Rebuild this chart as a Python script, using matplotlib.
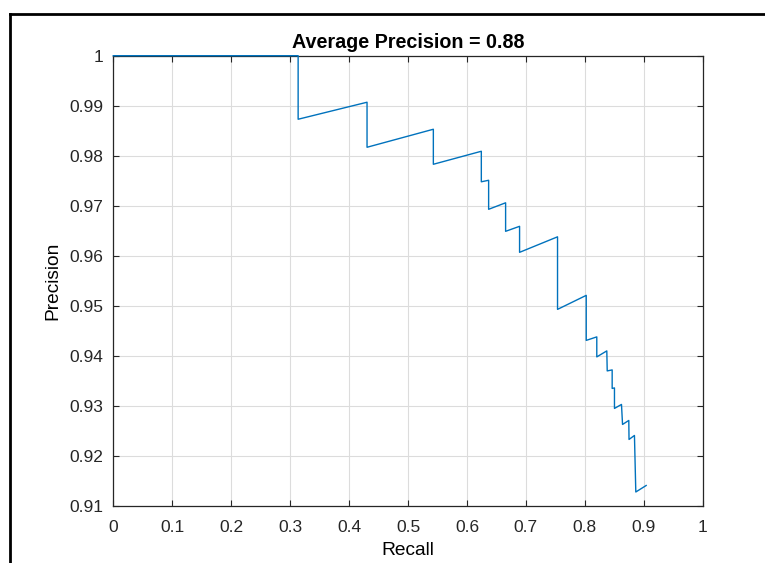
"""
Precision-recall curve, MATLAB style.
"""
import matplotlib
matplotlib.use('Agg')
import matplotlib.pyplot as plt
from matplotlib.lines import Line2D

plt.rcParams['font.family'] = ['Liberation Sans', 'DejaVu Sans']

# PR curve vertices
recall = [0.0, 0.3136, 0.3136, 0.4305, 0.4305, 0.5430, 0.5430, 0.6244, 0.6244,
          0.6368, 0.6368, 0.6656, 0.6656, 0.6893, 0.6893, 0.7537, 0.7537,
          0.8024, 0.8024, 0.8203, 0.8203, 0.8373, 0.8380, 0.8464, 0.8464,
          0.8503, 0.8503, 0.8622, 0.8640, 0.8746, 0.8750, 0.8842, 0.8865, 0.9041]
precision = [1.0, 1.0, 0.9873, 0.9907, 0.9817, 0.9853, 0.9783, 0.9809, 0.9748,
             0.9751, 0.9693, 0.9706, 0.9649, 0.9659, 0.9607, 0.9638, 0.9493,
             0.9521, 0.9431, 0.9438, 0.9398, 0.9410, 0.9370, 0.9372, 0.9335,
             0.9336, 0.9295, 0.9303, 0.9263, 0.9271, 0.9233, 0.9241, 0.9128, 0.9141]
avg_precision = 0.88

xticks = [0, 0.1, 0.2, 0.3, 0.4, 0.5, 0.6, 0.7, 0.8, 0.9, 1]
xtick_labels = ['0', '0.1', '0.2', '0.3', '0.4', '0.5', '0.6', '0.7', '0.8', '0.9', '1']
yticks = [0.91, 0.92, 0.93, 0.94, 0.95, 0.96, 0.97, 0.98, 0.99, 1]
ytick_labels = ['0.91', '0.92', '0.93', '0.94', '0.95', '0.96', '0.97', '0.98', '0.99', '1']

W, H = 765, 563
fig = plt.figure(figsize=(W / 100, H / 100), dpi=100)
ax = fig.add_axes([113.3 / W, 1 - 506 / H, (702.7 - 113.3) / W, (506 - 55.7) / H])

ax.plot(recall, precision, color='#0072BD', lw=1.0, clip_on=False, zorder=3)

ax.set_xlim(0, 1)
ax.set_ylim(0.91, 1)
ax.set_xticks(xticks)
ax.set_xticklabels(xtick_labels)
ax.set_yticks(yticks)
ax.set_yticklabels(ytick_labels)
ax.tick_params(direction='in', length=4, width=0.8, top=True, right=True,
               labelsize=12.5, colors='#262626')
ax.tick_params(axis='x', pad=10)
ax.tick_params(axis='y', pad=7)
ax.grid(True, color='#dcdcdc', lw=0.8)
ax.set_axisbelow(True)
for s in ax.spines.values():
    s.set_linewidth(0.9)
    s.set_color('#262626')

ax.set_title(f'Average Precision = {avg_precision:.2f}', fontsize=14.2, fontweight='bold', pad=5.5)
ax.set_xlabel('Recall', fontsize=13.75)
ax.set_ylabel('Precision', fontsize=13.75)
ax.xaxis.set_label_coords(0.5, -0.079)
ax.yaxis.set_label_coords(-0.088, 0.5)

# outer frame of the screenshot
fig.add_artist(Line2D([10 / W, 10 / W], [0, 1 - 14 / H], transform=fig.transFigure,
                      color='black', lw=2))
fig.add_artist(Line2D([10 / W, 1], [1 - 14 / H, 1 - 14 / H], transform=fig.transFigure,
                      color='black', lw=2))

fig.savefig('out.png', dpi=100)
